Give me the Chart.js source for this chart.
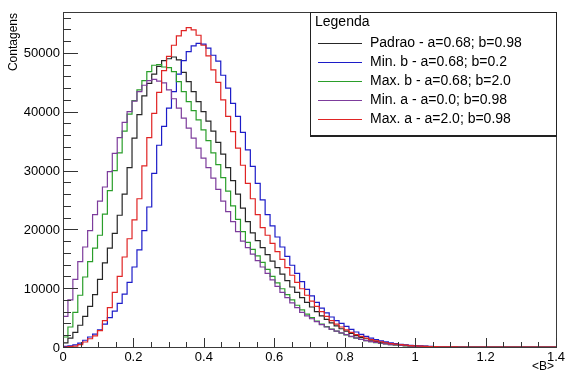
<!DOCTYPE html>
<html>
<head>
<meta charset="utf-8">
<script src="https://cdn.jsdelivr.net/npm/chart.js@4.4.1/dist/chart.umd.min.js"></script>
<style>
  html, body { margin: 0; padding: 0; background: #fff; }
  #wrap { width: 565px; height: 374px; }
</style>
</head>
<body>
<div id="wrap"><canvas id="grafico" width="565" height="374"></canvas></div>
<script>
/* histograma: 100 bins de 0 a 1.4 (largura 0.014) */
const binWidth = 0.014;
const xMax = 1.4;
const yMax = 56950;

/* ticks e rotulos */
const xTicks = [0, 0.2, 0.4, 0.6, 0.8, 1.0, 1.2, 1.4];
const xTickLabels = ["0", "0.2", "0.4", "0.6", "0.8", "1", "1.2", "1.4"];
const yTicks = [0, 10000, 20000, 30000, 40000, 50000];
const yTickLabels = ["0", "10000", "20000", "30000", "40000", "50000"];

/* series (contagens por bin, bins 0..79, depois zero) */
const padrao = [700,1500,2500,3700,5200,6900,8900,11500,14300,16800,
  19300,22400,26000,30500,35500,39500,42700,44800,46400,47700,
  48700,49000,49300,48800,46700,45100,43400,41700,40000,38400,
  36700,34800,32800,30500,28300,26000,23600,21300,19400,18100,
  16900,15700,14600,13500,12400,11300,10200,9300,8400,7600,
  6800,6000,5300,4700,4100,3600,3100,2700,2300,1950,
  1650,1400,1150,950,800,650,530,430,340,270,
  210,160,120,90,70,50,35,25,15,10];

const minB = [100,200,350,650,1150,1700,2200,2900,3900,5000,
  6100,7400,9000,11000,13600,16500,19800,23800,29500,34300,
  37500,40600,43400,46400,48700,50200,51200,51600,51500,50800,
  49600,48600,46200,44000,41400,39200,36500,33500,30700,27800,
  25000,22500,20600,18700,17000,15400,13900,12500,11100,9800,
  8700,7600,6600,5800,5100,4500,4000,3500,3000,2550,
  2150,1800,1500,1250,1050,870,710,580,470,380,
  300,230,180,140,100,75,55,40,25,15];

const maxB = [1700,3400,5900,8800,11900,14500,16800,19000,22600,26600,
  30000,33000,36700,39600,41900,43700,45300,46800,47900,48000,
  47600,47500,46800,45100,43400,41700,40200,38600,36900,35100,
  33000,31000,28800,26500,24000,21700,19600,17800,16600,15500,
  14400,13200,12000,10900,9900,8900,8000,7100,6300,5600,
  5000,4400,3900,3450,3050,2700,2350,2050,1750,1500,
  1280,1080,900,750,620,510,410,330,260,200,
  150,110,80,60,40,28,18,10,6,3];

const minA = [5200,8000,11500,14500,17000,19800,22500,24800,27200,29800,
  32900,35600,38200,40000,41800,43400,44500,45300,45500,45200,
  44900,43700,42200,40600,38900,37200,35500,33800,32100,30500,
  28700,26800,24800,23000,21300,19600,18000,16900,15800,14700,
  13600,12500,11400,10300,9300,8400,7500,6700,5900,5300,
  4800,4300,3800,3400,3000,2700,2400,2100,1800,1550,
  1300,1100,920,770,640,520,420,340,270,210,
  160,120,90,65,45,30,20,12,8,4];

const maxA = [0,50,150,400,850,1400,1900,2800,4500,6700,
  9300,12000,15300,18400,21600,25200,30800,35600,39700,43300,
  47000,49400,51300,52900,53800,54300,53900,53000,51300,49500,
  47100,45000,42000,39200,36600,33800,30900,27800,25200,22500,
  20300,19000,17600,16200,14900,13500,12200,11000,9900,8800,
  7800,6900,6000,5200,4500,3900,3400,2900,2500,2100,
  1800,1500,1250,1050,870,720,590,480,390,310,
  250,190,150,110,80,60,40,30,20,10];

const seriesLabels = [
  "Padrao - a=0.68; b=0.98",
  "Min. b - a=0.68; b=0.2",
  "Max. b - a=0.68; b=2.0",
  "Min. a - a=0.0; b=0.98",
  "Max. a - a=2.0; b=0.98"
];
const seriesColors = ["#262626", "#1c1cc8", "#2a9e2a", "#7d3c9c", "#e02424"];

const FONT = '"Liberation Sans", Arial, Helvetica, sans-serif';

/* converte contagens em pontos {x: borda esquerda, y} */
function toSteps(values) {
    const pts = values.map((v, i) => ({ x: i * binWidth, y: v }));
    pts.push({ x: values.length * binWidth, y: 0 });
    pts.push({ x: xMax, y: 0 });
    return pts;
}

/* ----------------------------------------------------------------------
   eixos, ticks internos, titulos e legenda no estilo ROOT
---------------------------------------------------------------------- */
const estiloRoot = {
    id: "estiloRoot",
    afterDraw(chart) {
        const { ctx, chartArea: a, scales: { x, y } } = chart;
        ctx.save();

        // moldura
        ctx.strokeStyle = "#3a3a3a";
        ctx.lineWidth = 1;
        ctx.strokeRect(a.left + 0.5, a.top + 0.5, a.right - a.left, a.bottom - a.top);

        // ticks x (a cada 0.05, maior a cada 0.2)
        ctx.strokeStyle = "#333";
        for (let k = 0; k * 0.05 <= xMax + 1e-9; k++) {
            const px = Math.round(x.getPixelForValue(k * 0.05)) + 0.5;
            const len = k % 4 === 0 ? 9 : 5;
            ctx.beginPath();
            ctx.moveTo(px, a.bottom);
            ctx.lineTo(px, a.bottom - len);
            ctx.stroke();
        }

        // ticks y (a cada 2000, maior a cada 10000)
        for (let v = 0; v <= yMax; v += 2000) {
            const py = Math.round(y.getPixelForValue(v)) + 0.5;
            const len = v % 10000 === 0 ? 15 : 8;
            ctx.beginPath();
            ctx.moveTo(a.left, py);
            ctx.lineTo(a.left + len, py);
            ctx.stroke();
        }

        // rotulos
        ctx.fillStyle = "#000";
        ctx.font = "13px " + FONT;
        ctx.textAlign = "center";
        ctx.textBaseline = "top";
        xTicks.forEach((v, i) => {
            ctx.fillText(xTickLabels[i], x.getPixelForValue(v), a.bottom + 4);
        });
        ctx.textAlign = "right";
        ctx.textBaseline = "middle";
        yTicks.forEach((v, i) => {
            ctx.fillText(yTickLabels[i], a.left - 3, y.getPixelForValue(v) + 1);
        });

        // titulos dos eixos
        ctx.font = "12px " + FONT;
        ctx.save();
        ctx.translate(14, a.top + 1);
        ctx.rotate(-Math.PI / 2);
        ctx.textAlign = "right";
        ctx.textBaseline = "middle";
        ctx.fillText("Contagens", 0, 0);
        ctx.restore();
        ctx.textAlign = "right";
        ctx.textBaseline = "top";
        ctx.fillText("<B>", a.right - 2, 361);

        // legenda
        const bx = 310, by = a.top, bw = a.right - 310, bh = 123;
        ctx.fillStyle = "#fff";
        ctx.fillRect(bx, by, bw, bh);
        ctx.strokeStyle = "#222";
        ctx.lineWidth = 1;
        ctx.strokeRect(bx + 0.5, by + 0.5, bw, bh);
        ctx.lineWidth = 2;
        ctx.beginPath();
        ctx.moveTo(bx, by + bh + 1);
        ctx.lineTo(bx + bw + 1, by + bh + 1);
        ctx.stroke();

        ctx.fillStyle = "#000";
        ctx.font = "14px " + FONT;
        ctx.textAlign = "left";
        ctx.textBaseline = "middle";
        ctx.fillText("Legenda", 315, by + 10);

        chart.data.datasets.forEach((ds, i) => {
            const ly = Math.round(by + 31 + i * 19.1) + 0.5;
            ctx.strokeStyle = ds.borderColor;
            ctx.lineWidth = 1;
            ctx.beginPath();
            ctx.moveTo(318, ly);
            ctx.lineTo(362, ly);
            ctx.stroke();
            ctx.fillStyle = "#000";
            ctx.fillText(ds.label, 370, ly);
        });

        ctx.restore();
    }
};

const seriesValues = [padrao, minB, maxB, minA, maxA];

new Chart(document.getElementById("grafico"), {
    type: "line",
    data: {
        datasets: seriesValues.map((vals, i) => ({
            label: seriesLabels[i],
            data: toSteps(vals),
            borderColor: seriesColors[i],
            borderWidth: 1.2,
            pointRadius: 0,
            fill: false,
            stepped: "before",
            order: 5 - i
        }))
    },
    options: {
        responsive: false,
        animation: false,
        devicePixelRatio: 1,
        layout: { padding: { left: 63, right: 9, top: 12, bottom: 27 } },
        plugins: { legend: { display: false }, tooltip: { enabled: false } },
        scales: {
            x: { type: "linear", min: 0, max: xMax, display: false },
            y: { type: "linear", min: 0, max: yMax, display: false }
        }
    },
    plugins: [estiloRoot]
});
</script>
</body>
</html>
